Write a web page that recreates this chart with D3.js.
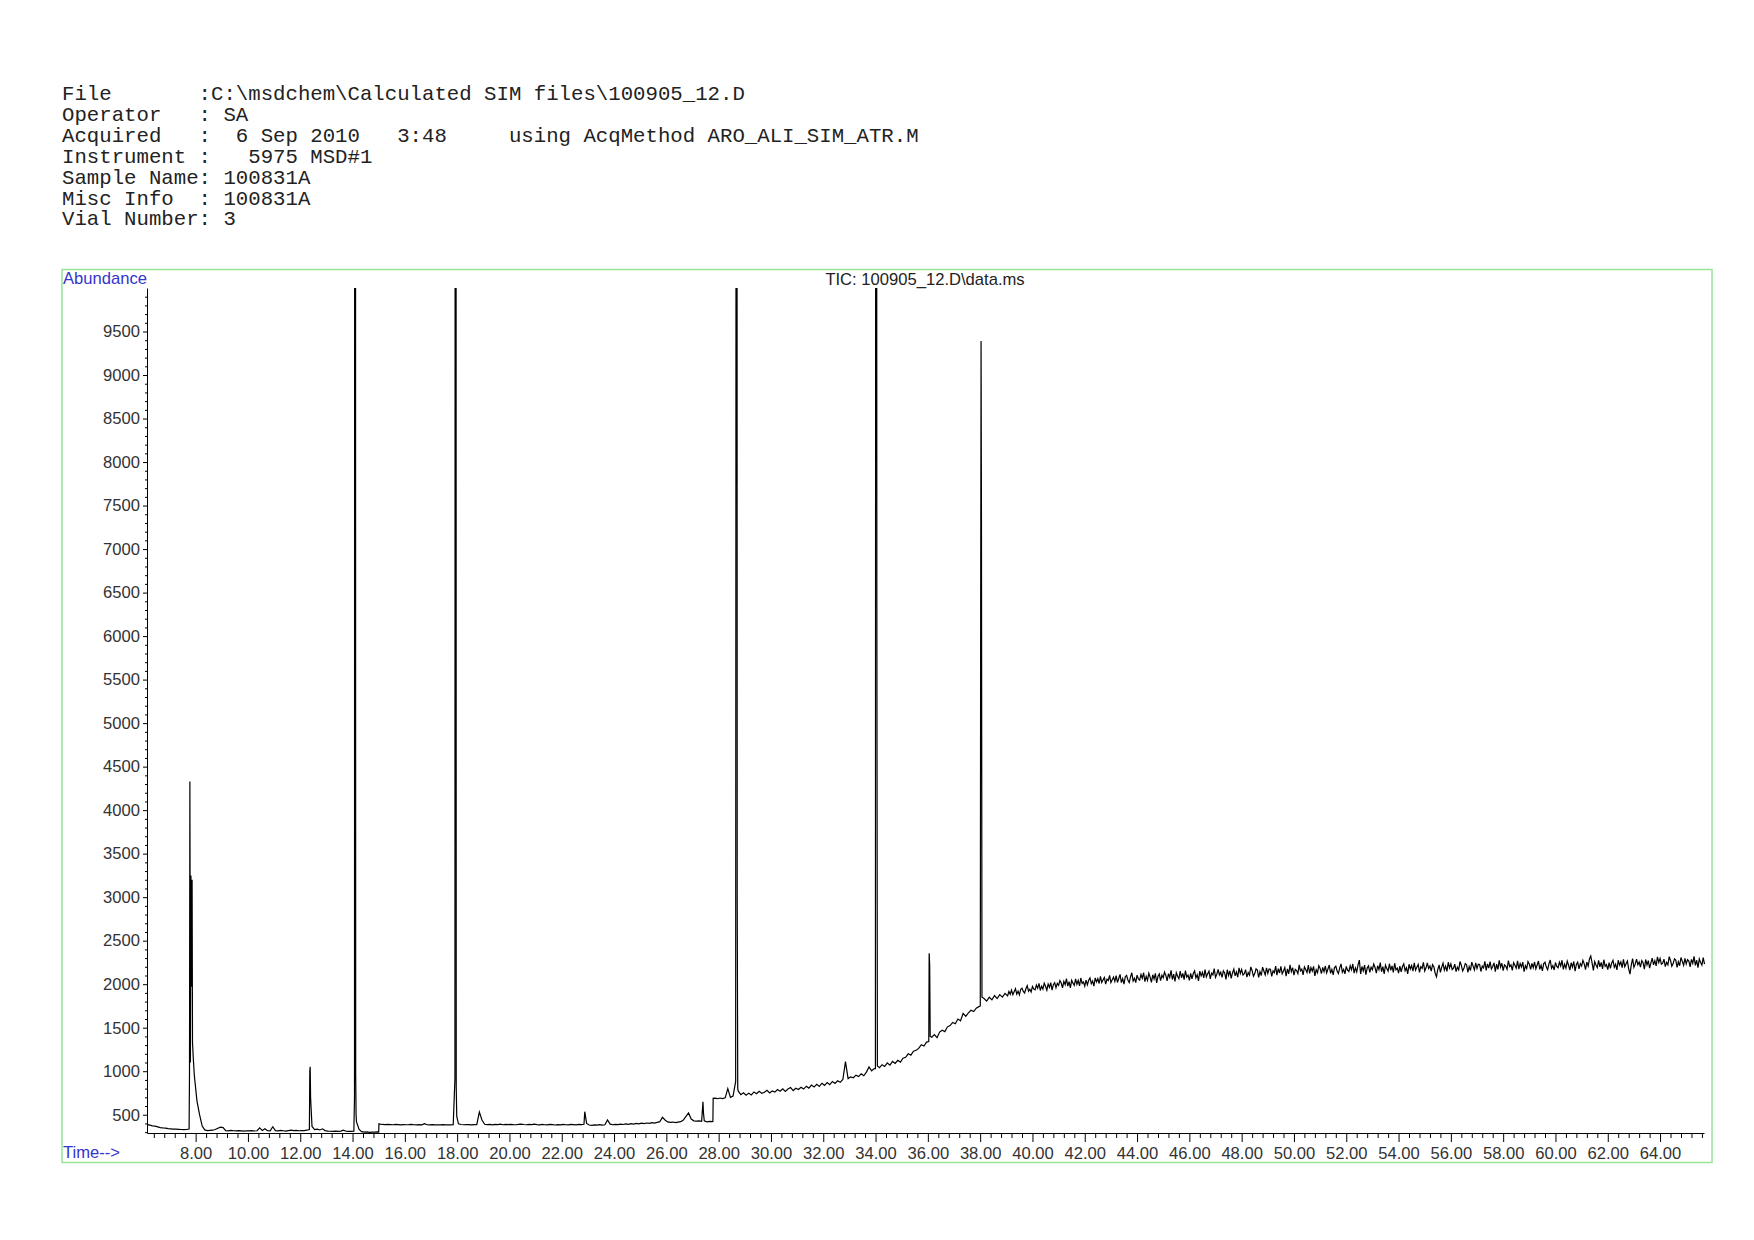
<!DOCTYPE html>
<html>
<head>
<meta charset="utf-8">
<script src="https://cdn.jsdelivr.net/npm/d3@7"></script>
<style>
  body { margin: 0; background: #fff; }
  svg { display: block; }
  .hdr { font-family: "Liberation Mono", "DejaVu Sans Mono", monospace; font-size: 20.7px; fill: #222; white-space: pre; }
  .lbl { font-family: "Liberation Sans", Arial, sans-serif; font-size: 16.6px; }
  .axis text { font-family: "Liberation Sans", Arial, sans-serif; font-size: 16.6px; fill: #333; }
  .axis path, .axis line { stroke: #000; }
</style>
</head>
<body>
<div id="chart"></div>
<script>
  var width = 1754;
  var height = 1240;

  var headerLines = [
    "File       :C:\\msdchem\\Calculated SIM files\\100905_12.D",
    "Operator   : SA",
    "Acquired   :  6 Sep 2010   3:48     using AcqMethod ARO_ALI_SIM_ATR.M",
    "Instrument :   5975 MSD#1",
    "Sample Name: 100831A",
    "Misc Info  : 100831A",
    "Vial Number: 3"
  ];
  var chartTitle = "TIC: 100905_12.D\\data.ms";

  var timeTicks = [8, 10, 12, 14, 16, 18, 20, 22, 24, 26, 28, 30, 32, 34, 36, 38, 40,
                   42, 44, 46, 48, 50, 52, 54, 56, 58, 60, 62, 64];
  var abundanceTicks = [500, 1000, 1500, 2000, 2500, 3000, 3500, 4000, 4500, 5000,
                        5500, 6000, 6500, 7000, 7500, 8000, 8500, 9000, 9500];

  // TIC, 6.15 - 39.05 min, one value every 0.1 min (one row = 1 min)
  var earlyStart = 6.15;
  var earlyStep = 0.1;
  var ticEarly = [
    386,380,372,368,360,352,348,345,340,338,      // 6.15
    335,334,332,330,328,330,335,2400,950,660,     // 7.15
    500,370,325,318,320,322,330,345,358,352,      // 8.15
    318,315,320,316,314,318,315,312,316,314,      // 9.15
    318,313,316,350,318,338,316,314,362,318,      // 10.15
    315,320,316,312,318,322,318,320,316,319,      // 11.15
    318,322,330,365,330,335,325,338,318,312,      // 12.15
    310,309,311,308,312,322,310,308,309,312,      // 13.15
    420,330,305,300,302,298,300,299,302,392,      // 14.15
    388,386,389,387,385,388,386,384,387,385,      // 15.15
    386,388,385,384,386,383,398,385,384,386,      // 16.15
    383,385,384,386,383,385,384,386,30000,395,    // 17.15
    388,385,387,386,384,387,385,530,440,390,      // 18.15
    386,388,384,389,386,392,385,388,386,390,      // 19.15
    387,385,389,392,388,385,390,387,391,386,      // 20.15
    384,389,385,383,388,386,382,387,384,389,      // 21.15
    385,383,388,386,384,389,387,390,400,382,      // 22.15
    378,384,380,386,381,385,440,392,385,390,      // 23.15
    386,392,388,395,390,398,393,400,396,403,      // 24.15
    398,405,401,410,404,412,420,470,440,418,      // 25.15
    412,416,410,415,420,438,480,520,450,430,      // 26.15
    426,430,425,430,418,424,420,690,684,692,      // 27.15
    686,694,800,700,715,880,770,730,752,725,      // 28.15
    748,728,762,741,770,745,758,781,750,772,      // 29.15
    760,790,771,798,768,795,812,778,805,790,      // 30.15
    815,795,828,806,840,818,850,826,862,838,      // 31.15
    870,846,882,860,890,872,905,1110,915,935,     // 32.15
    925,955,938,970,948,990,1050,1005,1030,6400,  // 33.15
    1040,1075,1055,1095,1070,1112,1090,1125,1105,1150, // 34.15
    1160,1200,1185,1230,1240,1262,1305,1290,1335,2355, // 35.15
    1390,1420,1385,1450,1470,1455,1510,1525,1560,1545, // 36.15
    1600,1580,1665,1630,1670,1700,1685,1725,1742,7330, // 37.15
    1835,1805,1850,1820,1870,1835,1880,1852,1895,1865  // 38.15
  ];

  // TIC, 39.10 - 65.70 min, one value every 0.05 min (one row = 1 min)
  var lateStart = 39.10;
  var lateStep = 0.05;
  var ticLate = [
    1916,1884,1933,1879,1914,1949,1885,1920,1877,1940,1953,1917,1899,1948,1983,1919,1943,1911,1974,1945, // 39.10
    1935,1989,1955,2010,1928,1978,1944,2011,1977,1931,2001,1964,2018,1932,1994,2017,1959,2009,1987,2042, // 40.10
    2013,1958,2033,1995,2065,1977,2029,1958,2045,2012,1987,2061,1999,2043,1980,2071,2008,2026,1977,2046, // 41.10
    1993,2045,2072,2005,2036,1978,2072,2026,2063,2008,2090,2019,2050,2077,2001,2058,2042,2102,2019,2050, // 42.10
    2082,2033,2099,2020,2066,2112,2018,2064,2000,2086,2102,2048,2019,2085,2131,2037,2068,2018,2104,2060, // 43.10
    2046,2112,2067,2133,2029,2089,2045,2126,2082,2022,2108,2059,2124,2015,2091,2117,2042,2103,2074,2140, // 44.10
    2101,2037,2122,2078,2159,2054,2115,2031,2132,2092,2063,2149,2074,2125,2051,2157,2082,2103,2044,2125, // 45.10
    2061,2122,2152,2073,2109,2039,2150,2096,2137,2072,2168,2084,2119,2150,2061,2127,2107,2178,2079,2115, // 46.10
    2171,2107,2137,2078,2154,2129,2055,2166,2102,2152,2068,2129,2174,2095,2141,2082,2187,2123,2169,2105, // 47.10
    2121,2167,2082,2133,2104,2199,2155,2091,2122,2177,2163,2079,2144,2100,2196,2152,2107,2188,2124,2175, // 48.10
    2171,2091,2152,2132,2208,2103,2179,2129,2205,2120,2151,2191,2092,2177,2118,2223,2144,2189,2105,2170, // 49.10
    2156,2121,2222,2152,2172,2108,2198,2168,2134,2219,2124,2190,2150,2205,2096,2166,2131,2212,2182,2122, // 50.10
    2193,2143,2209,2129,2174,2220,2125,2170,2106,2191,2206,2152,2122,2188,2233,2138,2169,2119,2205,2160, // 51.10
    2146,2211,2166,2232,2127,2187,2142,2222,2277,2118,2203,2153,2219,2109,2185,2210,2135,2196,2166,2231, // 52.10
    2192,2127,2212,2167,2248,2143,2203,2118,2219,2179,2149,2235,2160,2210,2135,2241,2166,2186,2126,2207, // 53.10
    2143,2203,2233,2154,2189,2119,2229,2175,2215,2150,2246,2161,2196,2226,2136,2201,2182,2252,2152,2188, // 54.10
    2244,2179,2209,2150,2225,2200,2126,2085,2171,2221,2136,2196,2241,2162,2207,2147,2252,2187,2233,2169, // 55.10
    2185,2230,2145,2196,2166,2261,2216,2151,2182,2237,2222,2137,2203,2158,2253,2208,2164,2244,2180,2230, // 56.10
    2226,2146,2207,2187,2262,2158,2234,2184,2259,2175,2204,2245,2145,2230,2170,2275,2195,2240,2156,2221, // 57.10
    2207,2172,2272,2202,2222,2158,2248,2218,2183,2268,2173,2238,2198,2254,2144,2214,2180,2260,2230,2170, // 58.10
    2240,2190,2255,2176,2221,2266,2171,2217,2152,2237,2252,2197,2167,2233,2278,2183,2213,2163,2249,2204, // 59.10
    2189,2254,2209,2275,2170,2230,2185,2265,2220,2161,2246,2196,2261,2151,2227,2252,2177,2237,2208,2273, // 60.10
    2233,2168,2253,2208,2289,2324,2245,2159,2259,2220,2190,2275,2200,2250,2176,2281,2206,2226,2167,2247, // 61.10
    2182,2243,2273,2194,2229,2164,2275,2220,2256,2191,2286,2201,2236,2267,2177,2116,2222,2293,2194,2230, // 62.10
    2287,2223,2254,2195,2271,2247,2173,2284,2220,2270,2185,2246,2300,2222,2269,2210,2315,2250,2295,2230, // 63.10
    2242,2287,2202,2252,2222,2317,2272,2207,2237,2292,2277,2192,2257,2212,2307,2262,2217,2297,2232,2282, // 64.10
    2265,2200,2285,2240,2320,2215,2275,2190,2290,2250,2220,2305,2230                                     // 65.10
  ];

  // extra scans around the sharp peaks [time, abundance]
  var peakScans = [
    [7.765, 960], [7.78, 4330], [7.80, 1100], [7.82, 3250], [7.835, 1970], [7.865, 3200], [7.88, 1330], [7.91, 1150],
    [12.365, 1000], [12.38, 1050], [12.395, 700],
    [14.075, 700], [14.09, 30000], [14.105, 30000], [14.12, 970], [14.135, 500],
    [15.0, 300], [15.01, 395],
    [17.915, 914], [17.935, 30000], [17.965, 819], [17.985, 480],
    [22.88, 535],
    [27.40, 650], [27.42, 520],
    [27.78, 422], [27.79, 688],
    [28.69, 30000], [28.71, 2960], [28.73, 800],
    [33.995, 1030], [34.02, 30000], [34.07, 1060],
    [36.035, 1340], [36.07, 2220], [36.09, 1400],
    [38.005, 1750], [38.02, 6300], [38.035, 9390], [38.07, 1850]
  ];

  var svg = d3.select("#chart").append("svg")
              .attr("width", width)
              .attr("height", height);
  svg.append("rect").attr("width", width).attr("height", height).attr("fill", "#fff");

  // header block
  svg.append("g").selectAll("text")
     .data(headerLines)
     .enter()
     .append("text")
     .attr("class", "hdr")
     .attr("x", 62)
     .attr("y", function(d, i) { return 100 + i * 20.9; })
     .text(function(d) { return d; });

  // green frame
  svg.append("rect")
     .attr("x", 62).attr("y", 269.5)
     .attr("width", 1650).attr("height", 893)
     .attr("fill", "none")
     .attr("stroke", "#98e398")
     .attr("stroke-width", 1.5);

  var x = d3.scaleLinear().domain([6.14, 65.68]).range([147, 1704]);
  var y = d3.scaleLinear().domain([290, 10000]).range([1133, 288]);

  // axes
  var xMinor = d3.range(6.4, 65.7, 0.4).filter(function(t) {
    return Math.abs(t / 2 - Math.round(t / 2)) > 0.01;
  });
  svg.append("g").attr("class", "axis")
     .attr("transform", "translate(0," + y.range()[0] + ")")
     .call(d3.axisBottom(x).tickValues(xMinor).tickSize(5).tickSizeOuter(0).tickFormat(""));
  svg.append("g").attr("class", "axis")
     .attr("transform", "translate(0," + y.range()[0] + ")")
     .call(d3.axisBottom(x).tickValues(timeTicks).tickSize(9).tickSizeOuter(0)
             .tickPadding(5).tickFormat(d3.format(".2f")))
     .call(function(g) { g.select(".domain").remove(); });

  var yMinor = d3.range(300, 10001, 100).filter(function(v) { return v % 500 != 0; });
  svg.append("g").attr("class", "axis")
     .attr("transform", "translate(" + x.range()[0] + ",0)")
     .call(d3.axisLeft(y).tickValues(yMinor).tickSize(2).tickSizeOuter(0).tickFormat(""));
  svg.append("g").attr("class", "axis")
     .attr("transform", "translate(" + x.range()[0] + ",0)")
     .call(d3.axisLeft(y).tickValues(abundanceTicks).tickSize(4).tickSizeOuter(0)
             .tickPadding(3).tickFormat(d3.format("d")))
     .call(function(g) { g.select(".domain").remove(); });

  // labels
  svg.append("text").attr("class", "lbl")
     .attr("x", 63).attr("y", 284)
     .attr("fill", "#3434cc")
     .text("Abundance");
  svg.append("text").attr("class", "lbl")
     .attr("x", 63).attr("y", 1158)
     .attr("fill", "#3434cc")
     .text("Time-->");
  svg.append("text").attr("class", "lbl")
     .attr("x", 925).attr("y", 285)
     .attr("text-anchor", "middle")
     .attr("fill", "#222")
     .text(chartTitle);

  // trace
  var scans = ticEarly.map(function(v, i) { return [earlyStart + i * earlyStep, v]; })
                .concat(ticLate.map(function(v, i) { return [lateStart + i * lateStep, v]; }))
                .concat(peakScans)
                .sort(function(a, b) { return a[0] - b[0]; });

  svg.append("clipPath").attr("id", "plotclip")
     .append("rect")
     .attr("x", 147).attr("y", 288)
     .attr("width", 1704 - 147 + 4).attr("height", 1133 - 288);

  var line = d3.line()
               .x(function(d) { return x(d[0]); })
               .y(function(d) { return y(d[1]); });

  svg.append("path")
     .datum(scans)
     .attr("clip-path", "url(#plotclip)")
     .attr("fill", "none")
     .attr("stroke", "#000")
     .attr("stroke-width", 1.2)
     .attr("d", line);
</script>
</body>
</html>
